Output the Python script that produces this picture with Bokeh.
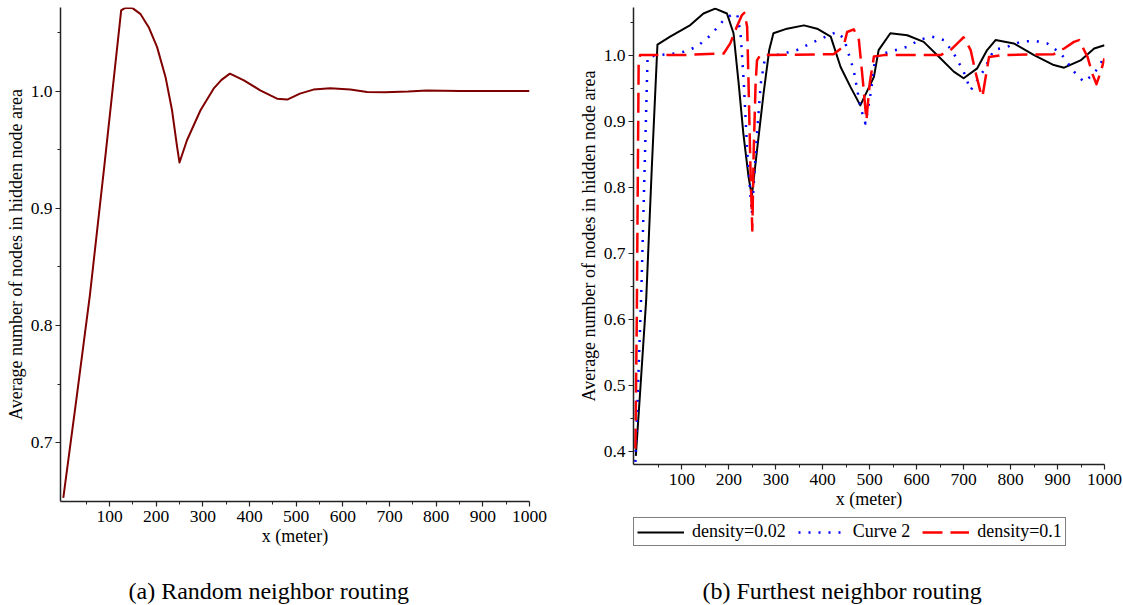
from bokeh.plotting import figure
from bokeh.layouts import row, column
from bokeh.models import FixedTicker, Legend, LegendItem, Label, Range1d, NumeralTickFormatter
from bokeh.embed import file_html
from bokeh.resources import INLINE

FONT = "Liberation Serif"

# ---------------- data ----------------
x_major = [100, 200, 300, 400, 500, 600, 700, 800, 900, 1000]
x_minor = [50, 150, 250, 350, 450, 550, 650, 750, 850, 950]

left_y_major = [0.7, 0.8, 0.9, 1.0]
left_y_minor = [0.75, 0.85, 0.95, 1.05]
right_y_major = [0.4, 0.5, 0.6, 0.7, 0.8, 0.9, 1.0]
right_y_minor = [0.45, 0.55, 0.65, 0.75, 0.85, 0.95, 1.05]

# (a) Random neighbor routing
rand_x = [1, 30, 58, 90, 125, 132, 140, 150, 166, 184, 202, 220, 234, 245, 250,
          266, 295, 323, 340, 358, 388, 423, 459, 481, 508, 537, 573, 616, 652, 690, 740,
          780, 850, 1000]
rand_y = [0.653, 0.740, 0.826, 0.940, 1.0687, 1.0705, 1.071, 1.0705, 1.0658,
          1.0544, 1.0374, 1.012, 0.9836, 0.952, 0.939, 0.958, 0.9836, 1.002, 1.0095, 1.0148,
          1.009, 1.0006, 0.9935, 0.9927, 0.9978, 1.0012, 1.0023, 1.0012, 0.9992, 0.9990,
          0.9995, 1.0004, 1.0, 1.0]

# (b) Furthest neighbor routing
d002_x = [2, 12, 24, 36, 48, 75, 118, 146, 171, 196, 210, 221, 231, 242, 249, 260, 274, 286,
          295, 324, 360, 388, 417, 438, 459, 480, 509, 519, 544, 580, 615, 651, 679, 700, 729,
          750, 768, 807, 850, 892, 914, 949, 978, 1000]
d002_y = [0.394, 0.50, 0.63, 0.83, 1.016, 1.028, 1.0455, 1.063, 1.0702, 1.063, 1.033, 0.957,
          0.881, 0.816, 0.787, 0.856, 0.942, 1.0076, 1.033, 1.040, 1.045, 1.040, 1.028, 0.982,
          0.952, 0.924, 0.967, 1.0076, 1.033, 1.030, 1.020, 0.995, 0.975, 0.965, 0.980, 1.0076,
          1.0227, 1.0177, 1.0, 0.985, 0.981, 0.992, 1.010, 1.015]

curve2_x = [1, 14, 27, 50, 75, 104, 132, 161, 189, 210, 218, 225, 232, 239, 249, 260, 268,
            278, 302, 345, 381, 430, 445, 466, 480, 491, 502, 512, 530, 580, 608, 633, 658,
            679, 700, 715, 743, 764, 793, 821, 850, 878, 907, 935, 956, 978, 1000]
curve2_y = [0.385, 0.65, 0.997, 1.0, 1.0015, 1.005, 1.0127, 1.030, 1.053, 1.063, 1.061, 1.033,
            0.957, 0.856, 0.760, 0.881, 0.957, 1.0, 1.0, 1.0076, 1.020, 1.035, 1.025, 0.977,
            0.922, 0.8965, 0.942, 0.997, 1.0025, 1.0127, 1.0237, 1.0278, 1.0227, 1.0025, 0.975,
            0.947, 0.977, 1.0076, 1.0127, 1.020, 1.0217, 1.0177, 1.0025, 0.975, 0.9596, 0.972,
            0.997]

d01_x = [1, 4, 8, 11, 100, 189, 203, 217, 228, 233, 239, 242, 246, 250, 253, 257, 260, 267,
         423, 444, 452, 466, 477, 486, 493, 500, 509, 530, 651, 672, 690, 700, 715, 725, 735,
         740, 747, 754, 780, 892, 914, 935, 946, 964, 974, 983, 992, 1000]
d01_y = [0.405, 0.60, 0.99, 1.0, 1.0, 1.0025, 1.0177, 1.043, 1.0606, 1.064, 1.043, 0.957,
         0.831, 0.735, 0.856, 0.957, 0.992, 1.0, 1.0015, 1.0127, 1.035, 1.039, 1.0227, 0.957,
         0.9015, 0.957, 0.998, 1.0, 1.0, 1.0076, 1.020, 1.027, 1.0076, 0.975, 0.947, 0.937,
         0.967, 0.997, 1.0, 1.0015, 1.010, 1.020, 1.0227, 0.997, 0.972, 0.956, 0.975, 0.995]

x_label = "x (meter)"
y_label = "Average number of nodes in hidden node area"
caption_a = "(a) Random neighbor routing"
caption_b = "(b) Furthest neighbor routing"
legend_labels = ["density=0.02", "Curve 2", "density=0.1"]

STYLES = [dict(line_color="black", line_width=2),
          dict(line_color="#0000ff", line_width=2.5, line_dash="2 8"),
          dict(line_color="#ff0000", line_width=2.5, line_dash="20 8")]


def style(p, ymaj, ymin):
    p.grid.visible = False
    p.outline_line_color = None
    p.xaxis.ticker = FixedTicker(ticks=x_major, minor_ticks=x_minor)
    p.yaxis.ticker = FixedTicker(ticks=ymaj, minor_ticks=ymin)
    p.yaxis.formatter = NumeralTickFormatter(format="0.0")
    for ax in (p.xaxis[0], p.yaxis[0]):
        ax.axis_line_color = "#222222"
        ax.axis_line_width = 1.5
        ax.major_tick_line_color = "#222222"
        ax.minor_tick_line_color = "#222222"
        ax.major_tick_line_width = 1.2
        ax.minor_tick_line_width = 1
        ax.major_tick_in = 0
        ax.major_tick_out = 5
        ax.minor_tick_in = 0
        ax.minor_tick_out = 3
        ax.major_label_text_font = FONT
        ax.major_label_text_font_size = "17.5px"
        ax.major_label_text_color = "black"
        ax.axis_label_text_font = FONT
        ax.axis_label_text_font_size = "18px"
        ax.axis_label_text_font_style = "normal"
        ax.axis_label_text_color = "black"
    p.xaxis.axis_label = x_label
    p.yaxis.axis_label = y_label
    p.xaxis.major_label_standoff = 4
    p.xaxis.axis_label_standoff = 1
    p.yaxis.major_label_standoff = 3
    p.yaxis.axis_label_standoff = 2


# ---------- left panel ----------
p1 = figure(width=570, height=560, min_border_left=60, min_border_right=41,
            min_border_top=7, min_border_bottom=59,
            x_range=Range1d(-5, 1000), y_range=Range1d(0.65, 1.0712),
            output_backend="svg", toolbar_location=None)
style(p1, left_y_major, left_y_minor)
p1.line(rand_x, rand_y, line_color="#800000", line_width=2, line_join="round")

# ---------- right panel ----------
p2 = figure(width=553, height=516, min_border_left=63, min_border_right=19,
            min_border_top=7, min_border_bottom=52,
            x_range=Range1d(-3, 1000), y_range=Range1d(0.381, 1.072),
            output_backend="svg", toolbar_location=None)
style(p2, right_y_major, right_y_minor)
for xs, ys, st in zip([d002_x, curve2_x, d01_x], [d002_y, curve2_y, d01_y], STYLES):
    p2.line(xs, ys, line_join="round", **st)

# ---------- legend strip under the right panel ----------
leg = figure(width=553, height=44, min_border=0, x_range=Range1d(0, 553),
             y_range=Range1d(0, 44), x_axis_type=None, y_axis_type=None,
             output_backend="svg", toolbar_location=None)
leg.grid.visible = False
leg.outline_line_color = None
# legend-only proxies (a single NaN point draws nothing in the strip)
proxies = [leg.line([float("nan")], [float("nan")], **st) for st in STYLES]
legend = Legend(items=[LegendItem(label=lab, renderers=[r]) for lab, r in zip(legend_labels, proxies)],
                orientation="horizontal", location=(0, 14),
                glyph_width=47, glyph_height=14, label_height=14, label_standoff=8,
                spacing=12, padding=3, margin=0,
                label_text_font=FONT, label_text_font_size="18px", label_text_color="black",
                border_line_color="black", border_line_width=1.5,
                background_fill_color="white", background_fill_alpha=1)
leg.add_layout(legend, "center")

# ---------- captions strip ----------
cap = figure(width=1123, height=45, min_border=0, x_range=Range1d(0, 1123),
             y_range=Range1d(0, 45), x_axis_type=None, y_axis_type=None,
             output_backend="svg", toolbar_location=None)
cap.grid.visible = False
cap.outline_line_color = None
cap.add_layout(Label(x=128, y=15, text=caption_a, text_font=FONT, text_font_size="24px",
                     text_color="black", text_baseline="middle", text_align="left"))
cap.add_layout(Label(x=702, y=15, text=caption_b, text_font=FONT, text_font_size="24px",
                     text_color="black", text_baseline="middle", text_align="left"))

layout = column(row(p1, column(p2, leg)), cap)
open("out.html", "w").write(file_html(layout, INLINE))
